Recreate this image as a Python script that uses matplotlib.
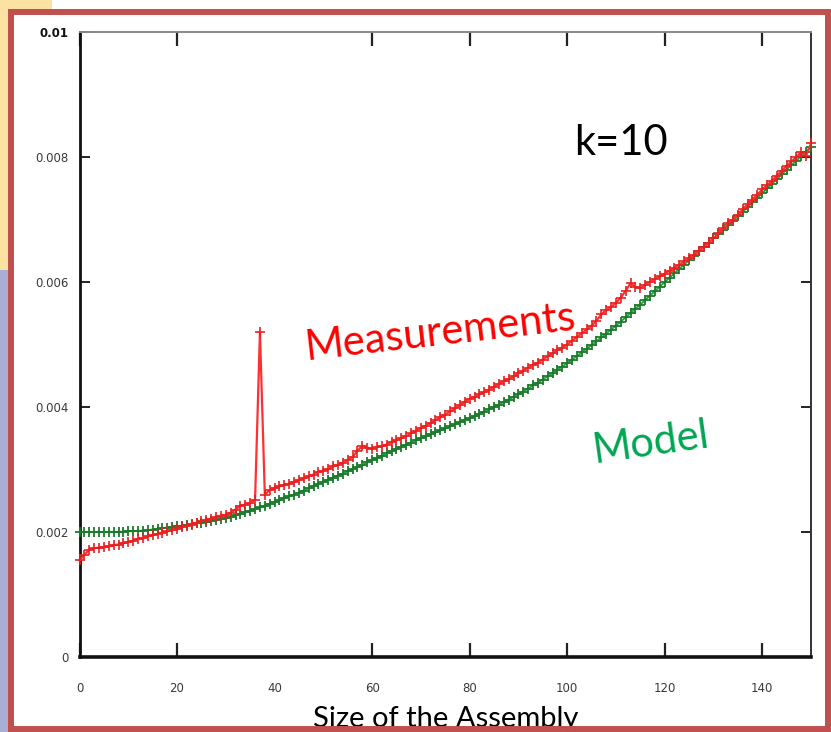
import numpy as np
import matplotlib
matplotlib.use("Agg")
import matplotlib.pyplot as plt
from matplotlib.patches import Rectangle

# Assembly sizes (one sample per size)
sizes = list(range(0, 151))

# Model prediction, in units of 1e-3
model_ms = [
    2.000, 2.000, 2.000, 2.000, 2.000, 2.000, 2.001, 2.002, 2.003, 2.004,
    2.010, 2.014, 2.018, 2.022, 2.030, 2.040, 2.050, 2.060, 2.070, 2.080,
    2.090, 2.101, 2.113, 2.126, 2.138, 2.150, 2.164, 2.178, 2.192, 2.206,
    2.220, 2.243, 2.266, 2.290, 2.315, 2.340, 2.368, 2.396, 2.424, 2.452,
    2.480, 2.510, 2.540, 2.570, 2.600, 2.630, 2.664, 2.698, 2.732, 2.766,
    2.800, 2.834, 2.868, 2.902, 2.936, 2.970, 3.006, 3.042, 3.078, 3.114,
    3.150, 3.186, 3.222, 3.258, 3.294, 3.330, 3.364, 3.398, 3.432, 3.466,
    3.500, 3.532, 3.564, 3.596, 3.628, 3.660, 3.692, 3.724, 3.756, 3.788,
    3.820, 3.856, 3.892, 3.928, 3.964, 4.000, 4.040, 4.080, 4.120, 4.160,
    4.200, 4.248, 4.296, 4.344, 4.392, 4.440, 4.492, 4.544, 4.596, 4.648,
    4.700, 4.758, 4.816, 4.874, 4.932, 4.990, 5.052, 5.114, 5.176, 5.238,
    5.300, 5.368, 5.436, 5.504, 5.572, 5.640, 5.712, 5.784, 5.856, 5.928,
    6.000, 6.070, 6.140, 6.210, 6.280, 6.350, 6.420, 6.490, 6.560, 6.630,
    6.700, 6.770, 6.840, 6.910, 6.980, 7.050, 7.124, 7.198, 7.272, 7.346,
    7.420, 7.496, 7.572, 7.648, 7.724, 7.800, 7.872, 7.944, 8.016, 8.088,
    8.160,
]

# Measured values, in units of 1e-3
measured_ms = [
    1.55, 1.63, 1.72, 1.74, 1.75, 1.76, 1.77, 1.79, 1.80, 1.82,
    1.84, 1.86, 1.89, 1.90, 1.93, 1.95, 1.97, 1.99, 2.01, 2.03,
    2.05, 2.08, 2.10, 2.12, 2.15, 2.18, 2.19, 2.21, 2.24, 2.26,
    2.27, 2.31, 2.36, 2.42, 2.44, 2.46, 2.52, 5.20, 2.60, 2.67,
    2.70, 2.73, 2.75, 2.77, 2.80, 2.83, 2.86, 2.89, 2.92, 2.96,
    2.98, 3.01, 3.05, 3.08, 3.11, 3.15, 3.20, 3.30, 3.38, 3.35,
    3.33, 3.36, 3.37, 3.40, 3.44, 3.47, 3.50, 3.53, 3.58, 3.62,
    3.66, 3.70, 3.74, 3.79, 3.84, 3.88, 3.93, 3.98, 4.03, 4.08,
    4.13, 4.16, 4.20, 4.24, 4.28, 4.32, 4.37, 4.41, 4.45, 4.49,
    4.54, 4.58, 4.63, 4.67, 4.71, 4.76, 4.81, 4.86, 4.91, 4.95,
    5.00, 5.06, 5.12, 5.18, 5.24, 5.30, 5.38, 5.48, 5.55, 5.60,
    5.67, 5.75, 5.86, 5.98, 5.92, 5.90, 5.96, 6.00, 6.05, 6.09,
    6.13, 6.18, 6.23, 6.28, 6.33, 6.38, 6.44, 6.50, 6.56, 6.62,
    6.70, 6.78, 6.86, 6.94, 7.00, 7.08, 7.16, 7.24, 7.32, 7.40,
    7.48, 7.55, 7.62, 7.70, 7.78, 7.86, 7.93, 8.00, 8.08, 8.02,
    8.22,
]

x_ticks = [0, 20, 40, 60, 80, 100, 120, 140]
x_tick_labels = ["0", "20", "40", "60", "80", "100", "120", "140"]
y_ticks = [0, 0.002, 0.004, 0.006, 0.008, 0.01]
y_tick_labels = ["0", "0.002", "0.004", "0.006", "0.008", "0.01"]

W, H = 831, 732
fig = plt.figure(figsize=(W / 100, H / 100), dpi=100, facecolor="white")

def fx(px):
    return px / W

def fy(py):
    return 1 - py / H

# Slide background showing around the frame
fig.patches.append(Rectangle((0, fy(270)), fx(9), 1 - fy(270), transform=fig.transFigure,
                             facecolor="#fbe2a2", edgecolor="none", zorder=0))
fig.patches.append(Rectangle((0, 0), fx(9), fy(270), transform=fig.transFigure,
                             facecolor="#a9aed6", edgecolor="none", zorder=0))
fig.patches.append(Rectangle((0, fy(10)), fx(52), 1 - fy(10), transform=fig.transFigure,
                             facecolor="#fbe2a2", edgecolor="none", zorder=0))

ax = fig.add_axes([fx(79.5), fy(657), fx(811) - fx(79.5), fy(32) - fy(657)])
ax.set_facecolor("white")

x = np.array(sizes)
model = np.array(model_ms) * 1e-3
measured = np.array(measured_ms) * 1e-3

ax.plot(x, model, color="#2ea043", lw=1.4, marker="+", ms=7.5, mew=1.3,
        mec="#1b7a2c", clip_on=False, zorder=3)
ax.plot(x, measured, color="#ff3030", lw=1.6, marker="+", ms=7.5, mew=1.2,
        mec="#e82020", clip_on=False, zorder=4)

ax.set_xlim(0, 150)
ax.set_ylim(0, 0.01)
ax.set_xticks(x_ticks)
ax.set_xticklabels(x_tick_labels)
ax.set_yticks(y_ticks)
ax.set_yticklabels(y_tick_labels)

ax.tick_params(axis="x", direction="in", length=10, width=1.6, top=True, bottom=True,
               pad=18, labelsize=8.5, labelcolor="#3a3a3a", color="#222222")
ax.tick_params(axis="y", direction="in", length=7, width=1.4, left=True, right=True,
               pad=8, labelsize=8.5, labelcolor="#3a3a3a", color="#222222")
for t in ax.xaxis.get_major_ticks():
    if t.get_loc() == 40:
        t.tick1line.set_visible(False)
        t.tick2line.set_visible(False)
ax.get_yticklabels()[-1].set_fontweight("bold")
ax.get_yticklabels()[-1].set_color("#111111")

ax.spines["left"].set_linewidth(2.0)
ax.spines["left"].set_color("#111111")
ax.spines["bottom"].set_linewidth(2.6)
ax.spines["bottom"].set_color("#111111")
ax.spines["top"].set_linewidth(1.4)
ax.spines["top"].set_color("#888888")
ax.spines["right"].set_linewidth(1.4)
ax.spines["right"].set_color("#333333")

font = ["Lato", "DejaVu Sans"]
fig.text(fx(440), fy(333), "Measurements", color="#ff0000", fontsize=30,
         family=font, rotation=6.5, ha="center", va="center")
fig.text(fx(651), fy(443), "Model", color="#00a651", fontsize=30,
         family=font, rotation=8, ha="center", va="center")
fig.text(fx(621), fy(143), "k=10", color="black", fontsize=30,
         family=font, ha="center", va="center")
fig.text(fx(446), fy(727), "Size of the Assembly", color="black", fontsize=21,
         family=font, ha="center", va="baseline", zorder=5)

# Red slide frame
fig.patches.append(Rectangle((fx(11), fy(729)), fx(828) - fx(11), fy(12) - fy(729),
                             transform=fig.transFigure, facecolor="none",
                             edgecolor="#c0504d", linewidth=4.3, zorder=10))

fig.savefig("out.png", dpi=100, facecolor=fig.get_facecolor())
